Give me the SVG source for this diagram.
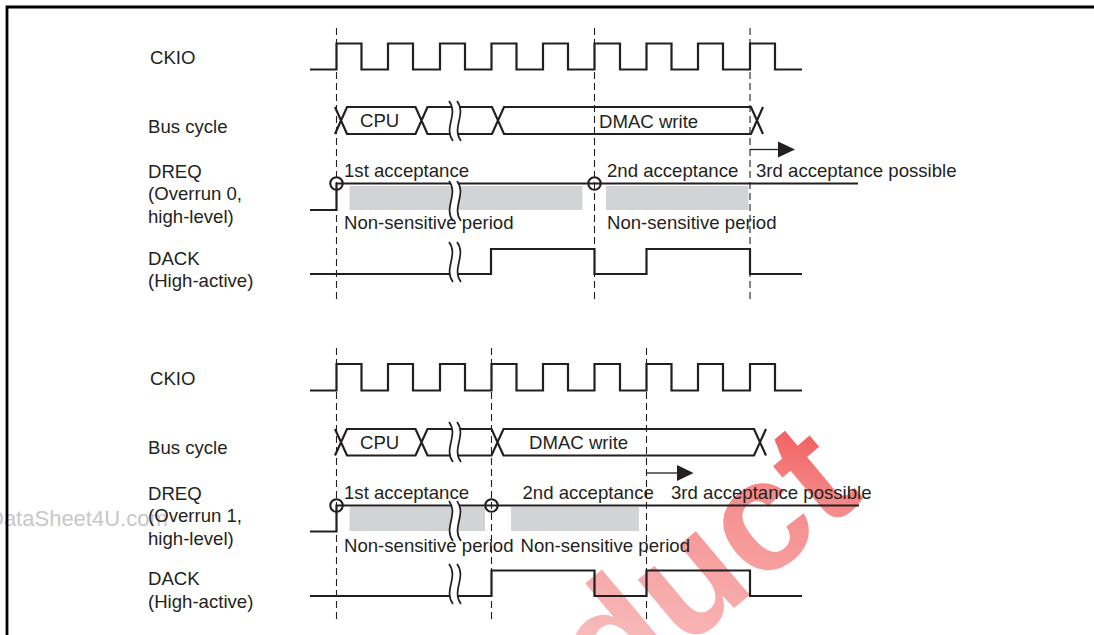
<svg xmlns="http://www.w3.org/2000/svg" xmlns:xlink="http://www.w3.org/1999/xlink" width="1094" height="635" viewBox="0 0 1094 635">
<style>
.w{fill:none;stroke:#231f20;stroke-width:2.2;stroke-linejoin:miter}
.d{fill:none;stroke:#231f20;stroke-width:1.1;stroke-dasharray:7 4}
.t{font-family:"Liberation Sans",Arial,sans-serif;font-size:18.6px;fill:#231f20}
.g{fill:#d1d3d4}
.o{fill:none;stroke:#231f20;stroke-width:2.1}
.a{fill:none;stroke:#231f20;stroke-width:1.3}
.h{fill:#231f20}
</style>
<defs>
<linearGradient id="rg" gradientUnits="userSpaceOnUse" x1="590" y1="640" x2="830" y2="450">
<stop offset="0" stop-color="#f8bcbc"/>
<stop offset="0.6" stop-color="#f58a8a"/>
<stop offset="1" stop-color="#f03a3a"/>
</linearGradient>
<g id="brk">
<path d="M-6,-20 C4,-7 -12,7 -2,20 L6,20 C-4,7 12,-7 2,-20 Z" fill="#fff"/>
<path d="M-6,-20 C4,-7 -12,7 -2,20 M2,-20 C12,-7 -4,7 6,20" fill="none" stroke="#231f20" stroke-width="1.7"/>
</g>
</defs>
<rect width="1094" height="635" fill="#fff"/>
<g id="watermark">
<text x="-12" y="526" style="font-family:'Liberation Sans',Arial,sans-serif;font-size:22px;fill:#c8c8c8">DataSheet4U.com</text>
<text transform="translate(610,712) rotate(-40)" style="font-family:'Liberation Sans',Arial,sans-serif;font-size:158px;font-weight:bold;fill:url(#rg)">duct</text>
</g>
<path d="M7,635 V7 H1094" fill="none" stroke="#000" stroke-width="2.8"/>
<g id="labels-top">
<text class="t" x="150" y="64">CKIO</text>
<text class="t" x="148" y="133">Bus cycle</text>
<text class="t" x="148" y="178">DREQ</text>
<text class="t" x="148" y="200">(Overrun 0,</text>
<text class="t" x="148" y="223">high-level)</text>
<text class="t" x="148" y="265">DACK</text>
<text class="t" x="148" y="287">(High-active)</text>
</g>
<g id="labels-bottom">
<text class="t" x="150" y="385">CKIO</text>
<text class="t" x="148" y="454">Bus cycle</text>
<text class="t" x="148" y="500">DREQ</text>
<text class="t" x="148" y="522">(Overrun 1,</text>
<text class="t" x="148" y="545">high-level)</text>
<text class="t" x="148" y="585">DACK</text>
<text class="t" x="148" y="608">(High-active)</text>
</g>
<g id="shading">
<rect class="g" x="349.5" y="186" width="233" height="24"/>
<rect class="g" x="606" y="186" width="142.5" height="24"/>
<rect class="g" x="349.5" y="507" width="135.5" height="24"/>
<rect class="g" x="511" y="507" width="128" height="24"/>
</g>
<g id="connectors">
<path class="d" d="M336.5,28 V300 M594.5,28 V300 M750,28 V300"/>
<path class="d" d="M336.5,348 V622 M491.5,348 V622 M646.5,348 V622"/>
<path class="a" d="M750,149.5 H779"/>
<polygon class="h" points="778,141.5 795,149.5 778,157.5"/>
<path class="a" d="M646.5,473 H678"/>
<polygon class="h" points="677,465 693.5,473 677,481"/>
</g>
<g id="top-ckio">
<path class="w" d="M310,69.5 H336.5 V43.5 H361.5 V69.5 H388 V43.5 H413 V69.5 H440 V43.5 H465 V69.5 H491.5 V43.5 H516.5 V69.5 H543 V43.5 H568 V69.5 H594.5 V43.5 H620 V69.5 H646.5 V43.5 H671.5 V69.5 H698 V43.5 H723 V69.5 H750 V43.5 H775 V69.5 H802"/>
</g>
<g id="top-bus">
<path class="w" d="M335,107 L347,134 H415.5 L427.5,107 H492 L504,134 H751 L763,107 M335,134 L347,107 H415.5 L427.5,134 H492 L504,107 H751 L763,134"/>
<use xlink:href="#brk" href="#brk" x="455" y="121"/>
<text class="t" x="360" y="127">CPU</text>
<text class="t" x="599" y="128">DMAC write</text>
</g>
<g id="top-dreq">
<path class="w" d="M310,210 H336.5 V183.5 H858"/>
<circle class="o" cx="336.5" cy="183.5" r="6.2"/>
<circle class="o" cx="594.5" cy="183.5" r="6.2"/>
<use xlink:href="#brk" href="#brk" x="455" y="201"/>
<text class="t" x="344" y="177">1st acceptance</text>
<text class="t" x="607" y="177">2nd acceptance</text>
<text class="t" x="756" y="177">3rd acceptance possible</text>
<text class="t" x="344" y="229">Non-sensitive period</text>
<text class="t" x="607" y="229">Non-sensitive period</text>
</g>
<g id="top-dack">
<path class="w" d="M310,274 H491 V249 H594.5 V274 H646.5 V249 H750 V274 H802"/>
<use xlink:href="#brk" href="#brk" x="455" y="262"/>
</g>
<g id="bottom-ckio">
<path class="w" d="M310,390.5 H336.5 V364 H361.5 V390.5 H388 V364 H413 V390.5 H440 V364 H465 V390.5 H491.5 V364 H516.5 V390.5 H543 V364 H568 V390.5 H594.5 V364 H620 V390.5 H646.5 V364 H671.5 V390.5 H698 V364 H723 V390.5 H750 V364 H775 V390.5 H802"/>
</g>
<g id="bottom-bus">
<path class="w" d="M335,429 L347,455.5 H415.5 L427.5,429 H491.5 L503.5,455.5 H754 L766,429 M335,455.5 L347,429 H415.5 L427.5,455.5 H491.5 L503.5,429 H754 L766,455.5"/>
<use xlink:href="#brk" href="#brk" x="455" y="442"/>
<text class="t" x="360" y="449">CPU</text>
<text class="t" x="529" y="449">DMAC write</text>
</g>
<g id="bottom-dreq">
<path class="w" d="M310,531.5 H336.5 V505.5 H859"/>
<circle class="o" cx="336.5" cy="505.5" r="6.2"/>
<circle class="o" cx="491.5" cy="505.5" r="6.2"/>
<use xlink:href="#brk" href="#brk" x="455" y="521"/>
<text class="t" x="344" y="499">1st acceptance</text>
<text class="t" x="522.5" y="499">2nd acceptance</text>
<text class="t" x="671" y="499">3rd acceptance possible</text>
<text class="t" x="344" y="552">Non-sensitive period</text>
<text class="t" x="520.5" y="552">Non-sensitive period</text>
</g>
<g id="bottom-dack">
<path class="w" d="M310,596 H491.5 V570.5 H594.5 V596 H646.5 V570.5 H750 V596 H802"/>
<use xlink:href="#brk" href="#brk" x="455" y="584"/>
</g>
</svg>
